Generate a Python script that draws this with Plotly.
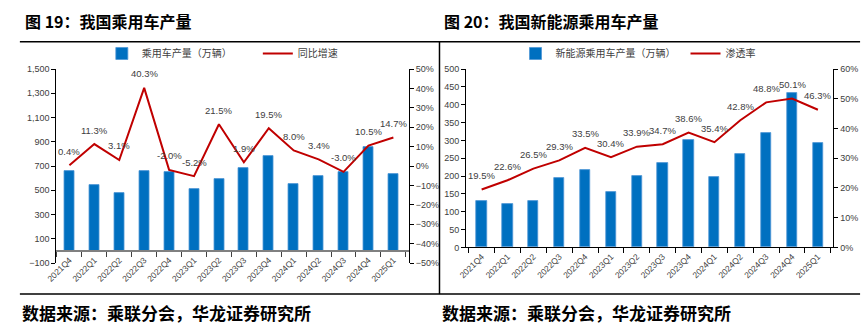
import plotly.graph_objects as go

W, H = 866, 333

quarters = ["2021Q4", "2022Q1", "2022Q2", "2022Q3", "2022Q4", "2023Q1", "2023Q2",
            "2023Q3", "2023Q4", "2024Q1", "2024Q2", "2024Q3", "2024Q4", "2025Q1"]

# Left chart: passenger car production (10k units) and YoY growth (%)
pv_output = [660, 540, 480, 660, 650, 510, 590, 680, 780, 550, 615, 650, 860, 630]
pv_yoy = [0.4, 11.3, 3.1, 40.3, -2.0, -5.2, 21.5, 1.9, 19.5, 8.0, 3.4, -3.0, 10.5, 14.7]

# Right chart: NEV passenger car production (10k units) and penetration (%)
nev_output = [130, 122, 130, 196, 217, 156, 201, 236, 301, 197, 263, 321, 432, 293]
nev_pen = [19.5, 22.6, 26.5, 29.3, 33.5, 30.4, 33.9, 34.7, 38.6, 35.4, 42.8, 48.8, 50.1, 46.3]

BLUE = "#0070C0"
RED = "#C00000"
TXT = "#404040"
FONT = "Liberation Sans, Arial, sans-serif"
CJK = "Noto Sans CJK SC"


def px(x):
    return x / W


def py(y):
    return 1 - y / H


fig = go.Figure()

fig.add_trace(go.Bar(x=quarters, y=pv_output, name="乘用车产量（万辆）", marker_color=BLUE,
                     marker_line=dict(color="#4F97D6", width=0.8),
                     width=0.4, xaxis="x", yaxis="y", legend="legend"))
fig.add_trace(go.Scatter(x=quarters, y=pv_yoy, name="同比增速", mode="lines",
                         line=dict(color=RED, width=2), xaxis="x", yaxis="y2", legend="legend"))
fig.add_trace(go.Bar(x=quarters, y=nev_output, name="新能源乘用车产量（万辆）", marker_color=BLUE,
                     marker_line=dict(color="#4F97D6", width=0.8),
                     width=0.4, xaxis="x2", yaxis="y3", legend="legend2"))
fig.add_trace(go.Scatter(x=quarters, y=nev_pen, name="渗透率", mode="lines",
                         line=dict(color=RED, width=2), xaxis="x2", yaxis="y4", legend="legend2"))

annotations = []
for q, v in zip(quarters, pv_yoy):
    annotations.append(dict(x=q, y=v, xref="x", yref="y2", text=f"{v:.1f}%", showarrow=False,
                            yshift=14, font=dict(family=FONT, size=9.5, color=TXT)))
for q, v in zip(quarters, nev_pen):
    annotations.append(dict(x=q, y=v, xref="x2", yref="y4", text=f"{v:.1f}%", showarrow=False,
                            yshift=14, font=dict(family=FONT, size=9.5, color=TXT)))

# Titles and sources
for x0, t in [(12, "图 19：我国乘用车产量"), (437, "图 20：我国新能源乘用车产量")]:
    annotations.append(dict(x=px(x0), y=py(17), xref="paper", yref="paper", xanchor="left",
                            yanchor="middle", text=f"<b>{t}</b>", showarrow=False,
                            font=dict(family=CJK, size=16, color="#000000")))
for x0 in [9, 435]:
    annotations.append(dict(x=px(x0), y=py(317), xref="paper", yref="paper", xanchor="left",
                            yanchor="middle", text="<b>数据来源：乘联分会，华龙证券研究所</b>",
                            showarrow=False, font=dict(family=CJK, size=17, color="#000000")))

shapes = [
    dict(type="line", xref="paper", yref="paper", x0=px(9), x1=px(860), y0=py(38), y1=py(38),
         line=dict(color="#000000", width=1.5)),
    dict(type="line", xref="paper", yref="paper", x0=px(9), x1=px(860), y0=py(298), y1=py(298),
         line=dict(color="#000000", width=1.5)),
    dict(type="line", xref="paper", yref="paper", x0=px(434), x1=px(434), y0=py(38), y1=py(298),
         line=dict(color="#000000", width=1.5)),
]

tickfont = dict(family=FONT, size=9, color=TXT)
xtickfont = dict(family=FONT, size=8.5, color=TXT)

fig.update_layout(
    width=W, height=H, margin=dict(l=0, r=0, t=0, b=0),
    paper_bgcolor="white", plot_bgcolor="white",
    bargap=0,
    annotations=annotations, shapes=shapes,
    xaxis=dict(domain=[px(46), px(403)], anchor="free", position=py(253.5), type="category",
               showline=True, linecolor="#808080", linewidth=2, ticks="outside", ticklen=5,
               tickcolor="#404040", tickson="boundaries", tickangle=-45, tickfont=xtickfont,
               showgrid=False),
    yaxis=dict(domain=[py(266), py(66)], range=[-100, 1500], tick0=-100, dtick=200,
               tickformat=",", showline=True, linecolor="#000000", linewidth=1,
               ticks="outside", ticklen=4, tickcolor="#000000", tickfont=tickfont,
               showgrid=False, zeroline=False, anchor="x"),
    yaxis2=dict(domain=[py(266), py(66)], range=[-50, 50], dtick=10, ticksuffix="%",
                overlaying="y", side="right", anchor="x", showline=True, linecolor="#000000",
                linewidth=1, ticks="outside", ticklen=4, tickcolor="#000000",
                tickfont=tickfont, showgrid=False, zeroline=False),
    xaxis2=dict(domain=[px(461), px(833)], anchor="y3", type="category",
                showline=True, linecolor="#000000", linewidth=1, ticks="outside", ticklen=5,
                tickcolor="#000000", tickson="boundaries", tickangle=-45, tickfont=xtickfont,
                showgrid=False),
    yaxis3=dict(domain=[py(250), py(66)], range=[0, 500], dtick=50, showline=True,
                linecolor="#000000", linewidth=1, ticks="outside", ticklen=4,
                tickcolor="#000000", tickfont=tickfont, showgrid=False, zeroline=False,
                anchor="x2"),
    yaxis4=dict(domain=[py(250), py(66)], range=[0, 60], dtick=10, ticksuffix="%",
                overlaying="y3", side="right", anchor="x2", showline=True,
                linecolor="#000000", linewidth=1, ticks="outside", ticklen=4,
                tickcolor="#000000", tickfont=tickfont, showgrid=False, zeroline=False),
    legend=dict(orientation="h", x=px(92), y=py(50), xanchor="left", yanchor="middle",
                font=dict(family=CJK, size=10, color=TXT), bgcolor="rgba(0,0,0,0)",
                entrywidth=111, entrywidthmode="pixels", tracegroupgap=0),
    legend2=dict(orientation="h", x=px(511), y=py(50), xanchor="left", yanchor="middle",
                 font=dict(family=CJK, size=10, color=TXT), bgcolor="rgba(0,0,0,0)",
                 entrywidth=125, entrywidthmode="pixels", tracegroupgap=0),
)

fig.write_html("out.html")
